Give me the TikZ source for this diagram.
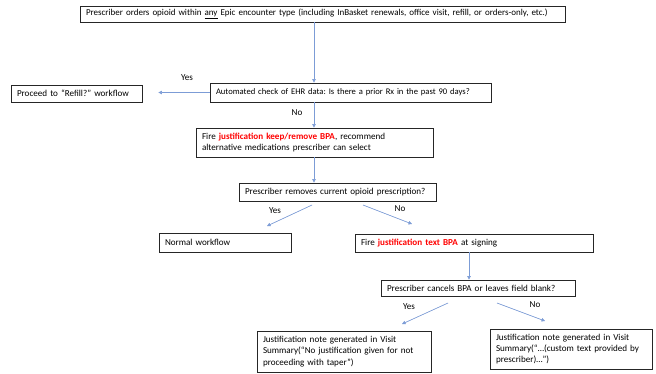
\documentclass[tikz,border=0pt]{standalone}
\usepackage{fontspec}
\setmainfont{Carlito}
\usepackage{xcolor}
\usepackage{tikz}
\usetikzlibrary{arrows.meta,positioning}
\frenchspacing

\definecolor{linkblue}{RGB}{68,114,196}
\definecolor{bpared}{RGB}{255,0,0}

\begin{document}
\begin{tikzpicture}[
    x=1pt, y=-1pt,
    box/.style={rectangle, draw=black!85, line width=0.8pt, align=left, inner xsep=6pt, inner ysep=1pt, font=\fontsize{9.1}{11.2}\selectfont},
    arrow/.style={-{Triangle[length=3.5pt,width=3.5pt]}, draw=linkblue!70, line width=0.6pt, fill=linkblue},
    lbl/.style={font=\fontsize{9.1}{11.2}\selectfont}
]
\useasboundingbox[fill=white] (0,0) rectangle (656,373);

% Entry
\node[box, text width=473pt, minimum height=16pt, font=\fontsize{9}{11}\selectfont] (order) at (322.5,14) {Prescriber orders opioid within \underline{any} Epic encounter type (including InBasket renewals, office visit, refill, or orders-only, etc.)};

% First check
\node[box, text width=269pt, minimum height=19pt, font=\fontsize{8.6}{11}\selectfont] (check) at (350.5,92.5) {Automated check of EHR data: Is there a prior Rx in the past 90 days?};
\node[box, text width=119pt, minimum height=17pt] (refill) at (76.5,93.5) {Proceed to “Refill?” workflow};

% Keep/remove BPA
\node[box, text width=225pt, minimum height=29pt] (keepbpa) at (314.5,142.5) {Fire \textcolor{bpared}{\textbf{justification keep/remove BPA}}, recommend\\alternative medications prescriber can select};
\node[box, text width=185pt, minimum height=18pt] (removes) at (337.5,192) {Prescriber removes current opioid prescription?};

% Split paths
\node[box, text width=120pt, minimum height=19pt] (normal) at (225,242.5) {Normal workflow};
\node[box, text width=226pt, minimum height=18pt] (textbpa) at (474,243) {Fire \textcolor{bpared}{\textbf{justification text BPA}} at signing};
\node[box, text width=182pt, minimum height=16pt] (cancels) at (478,288) {Prescriber cancels BPA or leaves field blank?};

% Notes
\node[box, text width=162pt, minimum height=41pt] (noteyes) at (344,351.5) {Justification note generated in Visit\\Summary(“No justification given for not\\proceeding with taper”)};
\node[box, text width=150pt, minimum height=40pt] (noteno) at (571,349) {Justification note generated in Visit\\Summary(“…(custom text provided by\\prescriber)…”)};

% Free ends of the slanted arrows
\coordinate (yesa) at (312,205);
\coordinate (yesb) at (267,226);
\coordinate (noa) at (363,205);
\coordinate (nob) at (412,224);
\coordinate (yesc) at (448,303);
\coordinate (yesd) at (402,324);
\coordinate (noc) at (497,303);
\coordinate (nod) at (545,321);

% Arrows
\draw[arrow] (order.south -| 314,0) -- (check.north -| 314,0);
\draw[arrow, shorten >=16pt] (check.west) -- (check.west -| refill.east);
\draw[arrow] (check.south -| 314,0) -- (keepbpa.north -| 314,0);
\draw[arrow] (keepbpa.south -| 314,0) -- (removes.north -| 314,0);
\draw[arrow] (yesa) -- (yesb);
\draw[arrow] (noa) -- (nob);
\draw[arrow] (textbpa.south -| 469,0) -- (cancels.north -| 469,0);
\draw[arrow] (yesc) -- (yesd);
\draw[arrow] (noc) -- (nod);

% Labels
\node[lbl] (lyes1) at (187,78) {Yes};
\node[lbl] (lno1) at (297,113) {No};
\node[lbl] (lyes2) at (275,211) {Yes};
\node[lbl] (lno2) at (400,209) {No};
\node[lbl] (lyes3) at (409,307) {Yes};
\node[lbl] (lno3) at (535,305) {No};

\end{tikzpicture}
\end{document}
